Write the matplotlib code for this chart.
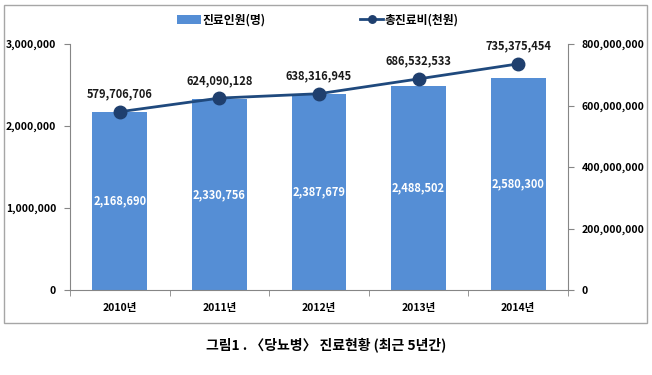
import matplotlib
matplotlib.use("Agg")
import matplotlib.pyplot as plt
from matplotlib.patches import Rectangle
from matplotlib.ticker import FuncFormatter, FixedLocator

plt.rcParams['font.family'] = ['Noto Sans CJK KR', 'DejaVu Sans']

years = ['2010년', '2011년', '2012년', '2013년', '2014년']
patients = [2168690, 2330756, 2387679, 2488502, 2580300]
costs = [579706706, 624090128, 638316945, 686532533, 735375454]
bar_name = '진료인원(명)'
line_name = '총진료비(천원)'
caption = '그림1 . 〈당뇨병〉 진료현황 (최근 5년간)'

W, H = 652, 375
fig = plt.figure(figsize=(W / 100, H / 100), dpi=100)

# outer frame
fig.patches.append(Rectangle((4 / W, 1 - 323 / H), 643 / W, 318 / H,
                             transform=fig.transFigure, fill=False,
                             edgecolor='#A6A6A6', linewidth=1.0))

ax = fig.add_axes([70 / W, 1 - 290 / H, 498 / W, 246 / H])
x = list(range(len(years)))
bars = ax.bar(x, patients, width=0.55, color='#558ED5', label=bar_name, zorder=2)
ax.set_xlim(-0.5, len(years) - 0.5)
ax.set_ylim(0, 3000000)
ax.set_yticks([0, 1000000, 2000000, 3000000])
ax.yaxis.set_major_formatter(FuncFormatter(lambda v, p: f'{int(v):,}'))
ax.set_xticks(x)
ax.set_xticklabels(years, fontsize=7.5, fontweight='bold')
ax.xaxis.set_minor_locator(FixedLocator([i + 0.5 for i in range(-1, len(years))]))
ax.tick_params(axis='x', which='major', length=0, pad=9)
ax.tick_params(axis='x', which='minor', length=4, color='#868686', direction='out')
ax.tick_params(axis='y', length=4, color='#868686', labelsize=7.5, pad=6)
for lab in ax.get_yticklabels():
    lab.set_fontweight('bold')
for s in ['top', 'right']:
    ax.spines[s].set_visible(False)
for s in ['left', 'bottom']:
    ax.spines[s].set_color('#868686')

for xi, v in zip(x, patients):
    ax.text(xi, v / 2, f'{v:,}', ha='center', va='center', color='white',
            fontsize=8, fontweight='bold', zorder=3)

ax2 = ax.twinx()
ax2.set_ylim(0, 800000000)
ax2.set_yticks([0, 200000000, 400000000, 600000000, 800000000])
ax2.yaxis.set_major_formatter(FuncFormatter(lambda v, p: f'{int(v):,}'))
ax2.tick_params(axis='y', length=4, color='#868686', labelsize=7.5, pad=6)
for lab in ax2.get_yticklabels():
    lab.set_fontweight('bold')
for s in ['top', 'left', 'bottom']:
    ax2.spines[s].set_visible(False)
ax2.spines['right'].set_color('#868686')
line, = ax2.plot(x, costs, color='#1F497D', linewidth=2, marker='o',
                 markersize=9, markerfacecolor='#1F3F6E', markeredgecolor='#1F3F6E',
                 label=line_name, zorder=4)
for xi, v in zip(x, costs):
    ax2.annotate(f'{v:,}', (xi, v), xytext=(0, 8), textcoords='offset points',
                 ha='center', va='bottom', fontsize=8, fontweight='bold',
                 color='#1A1A1A')

fig.legend([bars, line], [bar_name, line_name], loc='center',
           bbox_to_anchor=(318 / W, 1 - 20 / H), ncol=2, frameon=False,
           columnspacing=8, handlelength=2.0, handletextpad=0.1,
           markerscale=0.6, prop={'weight': 'bold', 'size': 8.5})

fig.text(326 / W, 1 - 345 / H, caption, ha='center', va='center',
         fontsize=10, fontweight='bold')

fig.savefig('out.png', dpi=100)
